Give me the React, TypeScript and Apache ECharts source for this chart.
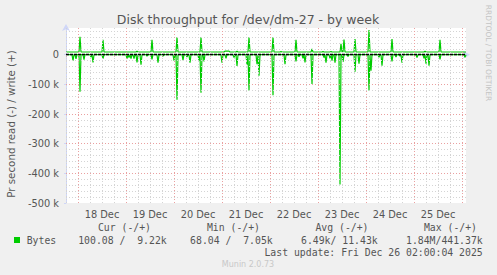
import React, { useEffect, useRef } from 'react';
import * as echarts from 'echarts';

// ---- data (hours since 18 Dec 00:00, values in k bytes/s) ----
const chartTitle = 'Disk throughput for /dev/dm-27 - by week';
const yAxisName = 'Pr second read (-) / write (+)';
const dayLabels = ['18 Dec', '19 Dec', '20 Dec', '21 Dec', '22 Dec', '23 Dec', '24 Dec', '25 Dec'];
const xStart = -6;
const xEnd = 194;
const yMin = -500;
const yMax = 90;
const writeBase = 9.1;
const readBase = -0.1;

const writeSpikes: [number, number][] = [
  [1, 60], [12.5, 50], [29.5, 12], [37, 50], [49.5, 59], [61.5, 59],
  [73.5, 12], [74, 12], [74.5, 12], [75, 12], [75.5, 12], [79.5, 12],
  [85.5, 59], [97.5, 59], [101.5, 11], [109, 50], [117, 19], [122.5, 11],
  [126.5, 11], [131.5, 37], [133, 51], [138.5, 53], [145.5, 83], [157, 53],
  [173.5, 12], [181, 50],
];

const readSpikes: [number, number][] = [
  [-2.5, -20], [-1, -14], [1, -125], [3, -17], [6.5, -8], [7.5, -26], [12.5, -13],
  [24.5, -13], [25.5, -10], [26.5, -13], [28, -13], [29.5, -26], [31.5, -34],
  [34.5, -5], [37, -16], [40, -27], [42.5, -5], [48, -20], [49.5, -152],
  [52.5, -18], [54.5, -8], [56, -27], [60.5, -20], [61.5, -128], [63, -23],
  [72, -27], [74, -12], [78, -10], [79.5, -38], [84.5, -34], [85.5, -121],
  [89.5, -32], [90.5, -71], [97.5, -137], [103.5, -32], [109, -23], [110.5, -7],
  [112.5, -12], [113.5, -26], [117, -99], [123, -10], [124, -27], [126, -12],
  [127, -20], [128.5, -27], [131, -438], [132.5, -24], [135, -6], [138.5, -57],
  [140.5, -30], [145.5, -121], [146.5, -54], [150.5, -9], [152, -37], [157, -23],
  [159, -8], [161, -5], [162, -27], [169.5, -10], [173, -12], [174, -30],
  [175.5, -37], [181, -16], [193.5, -9],
];

const legendHeaders = ['Cur (-/+)', 'Min (-/+)', 'Avg (-/+)', 'Max (-/+)'];
const legendValues = ['100.08 /  9.22k', '68.04 /  7.05k', '6.49k/ 11.43k', '1.84M/441.37k'];
const seriesName = 'Bytes';
const lastUpdate = 'Last update: Fri Dec 26 02:00:04 2025';
const footer = 'Munin 2.0.73';
const sideText = 'RRDTOOL / TOBI OETIKER';

function buildSeries(base: number, spikes: [number, number][]) {
  const pts: [number, number][] = [[xStart, base]];
  spikes.forEach(([h, v], i) => {
    const prev = pts[pts.length - 1][0];
    if (h - 0.5 > prev) pts.push([h - 0.5, base]);
    pts.push([h, v]);
    const next = i + 1 < spikes.length ? spikes[i + 1][0] : xEnd;
    if (h + 0.5 < next) pts.push([h + 0.5, base]);
  });
  pts.push([xEnd, base]);
  return pts;
}

const minorX: number[] = [];
const majorX: number[] = [];
for (let h = xStart; h <= 192; h += 6) {
  if (h % 24 === 0) majorX.push(h);
  else minorX.push(h);
}
const minorY: number[] = [];
const majorY: number[] = [];
for (let v = -480; v <= 80; v += 20) {
  if (v % 100 === 0) { if (v !== 0) majorY.push(v); }
  else minorY.push(v);
}

const GREEN = '#00cc00';
const AXIS = '#cfd6f8';
const FONT = '#555555';
const MONO = '"DejaVu Sans Mono", monospace';
const SANS = '"DejaVu Sans", sans-serif';

export default function App() {
  const ref = useRef<HTMLDivElement>(null);
  useEffect(() => {
    if (!ref.current) return;
    const chart = echarts.init(ref.current, null, { renderer: 'svg' });
    const gridLines = [
      ...minorX.map((x) => ({ xAxis: x, lineStyle: { color: '#d4d4d4', type: [1, 2] as any, width: 1 } })),
      ...minorY.map((y) => ({ yAxis: y, lineStyle: { color: '#d4d4d4', type: [1, 2] as any, width: 1 } })),
      ...majorX.map((x) => ({ xAxis: x, lineStyle: { color: '#eaa0a0', type: [1, 2] as any, width: 1 } })),
      ...majorY.map((y) => ({ yAxis: y, lineStyle: { color: '#eaa0a0', type: [1, 2] as any, width: 1 } })),
    ];
    const txt = (text: string, x: number, y: number, align: string, opts: any = {}) => ({
      type: 'text',
      x,
      y,
      silent: true,
      rotation: opts.rotation || 0,
      style: {
        text,
        fill: opts.fill || FONT,
        fontSize: opts.fontSize || 9.8,
        fontFamily: opts.fontFamily || MONO,
        align,
        textAlign: align,
        verticalAlign: 'middle',
        textVerticalAlign: 'middle',
      },
    });
    const headerRight = [151, 260, 368.5, 477];
    const valueRight = [166.7, 272.7, 377.7, 482.7];
    chart.setOption({
      animation: false,
      backgroundColor: '#f0f0f0',
      grid: {
        left: 66,
        right: 31,
        top: 28,
        bottom: 72,
        show: true,
        backgroundColor: '#ffffff',
        borderWidth: 0,
      },
      xAxis: {
        type: 'value',
        min: xStart,
        max: xEnd,
        interval: 6,
        axisLine: { show: true, lineStyle: { color: AXIS, width: 1 }, symbol: ['none', 'arrow'], symbolSize: [6, 7], symbolOffset: [0, 4] },
        axisTick: { show: true, length: 2, lineStyle: { color: '#e0a0a0' } },
        splitLine: { show: false },
        axisLabel: {
          color: FONT,
          fontFamily: SANS,
          fontSize: 9.8,
          margin: 6,
          formatter: (v: number) => (((v % 24) + 24) % 24 === 12 ? dayLabels[(v - 12) / 24] || '' : ''),
        },
      },
      yAxis: {
        type: 'value',
        min: yMin,
        max: yMax,
        interval: 100,
        axisLine: { show: true, onZero: false, lineStyle: { color: AXIS, width: 1 }, symbol: ['none', 'arrow'], symbolSize: [6, 7], symbolOffset: [0, 4] },
        axisTick: { show: true, length: 2, lineStyle: { color: AXIS } },
        splitLine: { show: false },
        axisLabel: {
          color: FONT,
          fontFamily: SANS,
          fontSize: 9.8,
          margin: 7,
          formatter: (v: number) => (v % 100 !== 0 ? '' : v === 0 ? '0' : `${v} k`),
        },
      },
      series: [
        {
          type: 'line',
          data: [],
          z: 1,
          silent: true,
          markLine: {
            silent: true,
            symbol: ['none', 'none'],
            label: { show: false },
            emphasis: { disabled: true },
            data: gridLines,
          },
        },
        {
          name: 'read',
          type: 'line',
          data: buildSeries(readBase, readSpikes),
          showSymbol: false,
          symbol: 'none',
          z: 3,
          lineStyle: { color: GREEN, width: 1.2 },
          markLine: {
            silent: true,
            symbol: ['none', 'none'],
            label: { show: false },
            emphasis: { disabled: true },
            z: 5,
            data: [{ yAxis: 0, lineStyle: { color: '#000000', type: [3, 1] as any, width: 1.4 } }],
          },
        },
        {
          name: 'write',
          type: 'line',
          data: buildSeries(writeBase, writeSpikes),
          showSymbol: false,
          symbol: 'none',
          z: 4,
          lineStyle: { color: GREEN, width: 1.2 },
        },
      ],
      graphic: [
        txt(chartTitle, 248, 19, 'center', { fontFamily: SANS, fontSize: 12.5, fill: '#555' }),
        txt(yAxisName, 11, 124, 'center', { fontFamily: SANS, fontSize: 10.3, rotation: Math.PI / 2 }),
        txt(sideText, 488, 53, 'center', { fontFamily: SANS, fontSize: 7.5, fill: '#c4c4c4', rotation: -Math.PI / 2 }),
        ...legendHeaders.map((h, i) => txt(h, headerRight[i], 227, 'right')),
        { type: 'rect', shape: { x: 14, y: 237, width: 6, height: 6 }, style: { fill: GREEN }, silent: true },
        txt(seriesName, 26.7, 240, 'left'),
        ...legendValues.map((v, i) => txt(v, valueRight[i], 240, 'right')),
        txt(lastUpdate, 482.7, 252, 'right'),
        txt(footer, 248, 264, 'center', { fontFamily: SANS, fontSize: 8, fill: '#c8c8c8' }),
      ],
    });
    return () => chart.dispose();
  }, []);
  return <div ref={ref} style={{ width: 497, height: 275, position: 'absolute', left: 0, top: 0 }} />;
}
